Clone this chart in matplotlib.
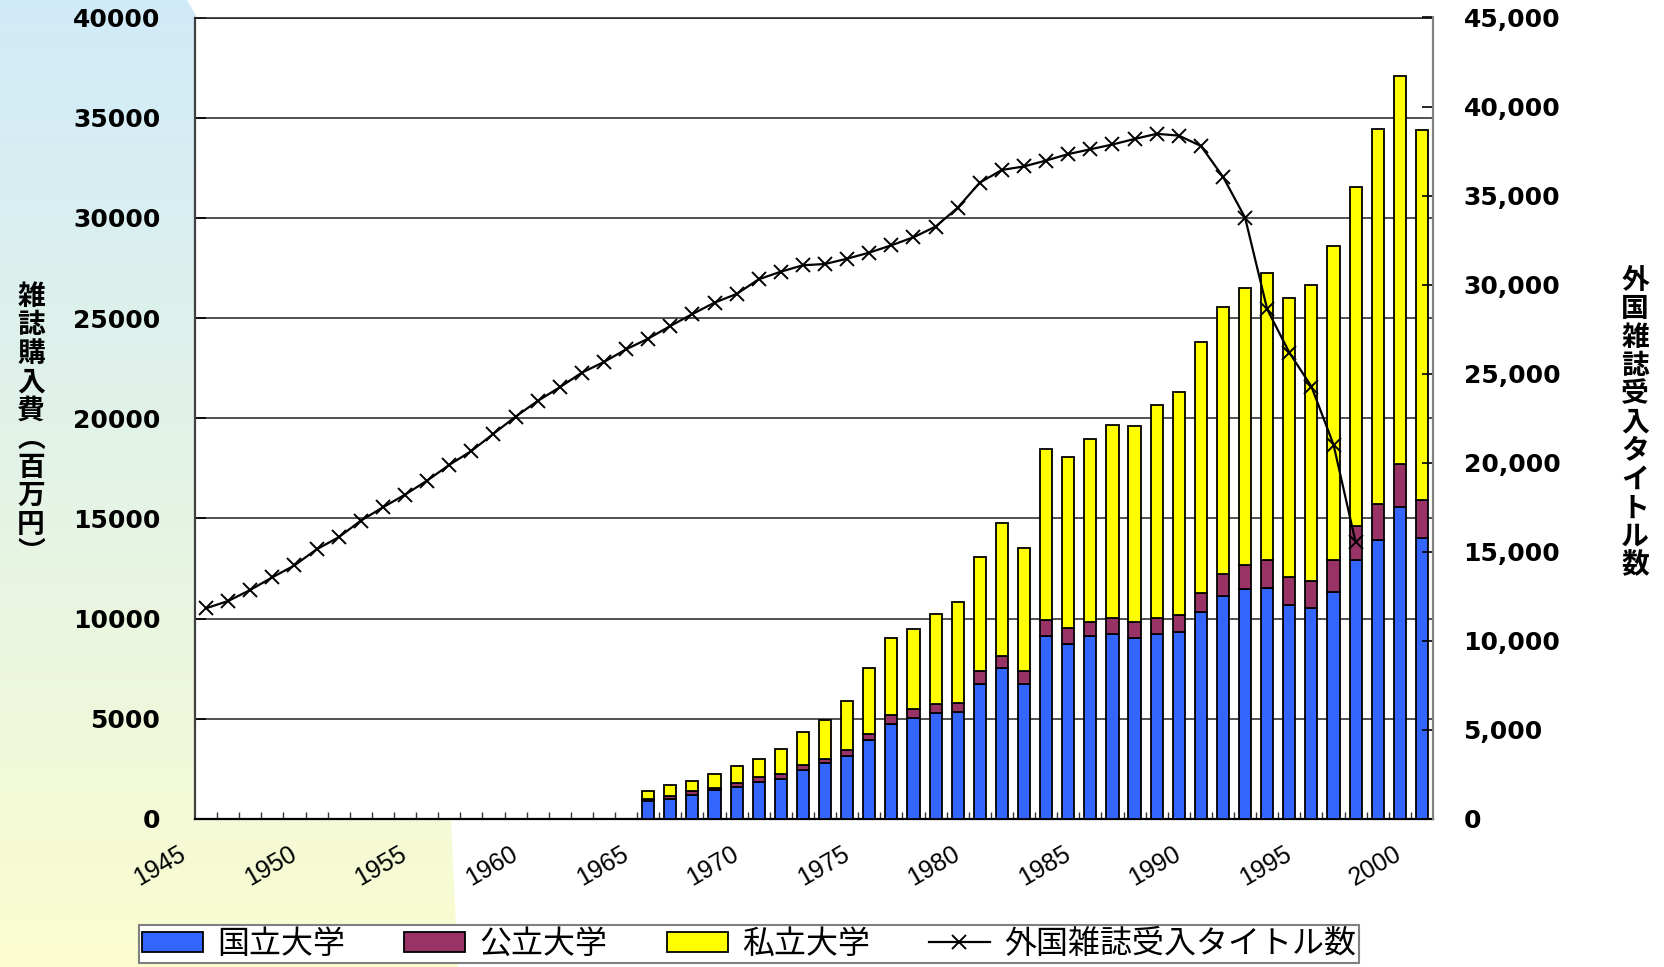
import numpy as np
import matplotlib
matplotlib.use('Agg')
import matplotlib.pyplot as plt
import matplotlib.transforms as mtransforms
from matplotlib.patches import Polygon, Patch
from matplotlib.lines import Line2D
from matplotlib.colors import LinearSegmentedColormap
from matplotlib.ticker import FuncFormatter

plt.rcParams['font.family'] = ['Noto Sans CJK JP', 'DejaVu Sans']

# カテゴリ（年）
years = list(range(1945, 2001))
bar_years = list(range(1965, 2001))
line_years = list(range(1945, 1998))

# 雑誌購入費（百万円）
kokuritsu = [900, 980, 1210, 1450, 1610, 1850, 2000, 2460, 2780, 3140,
             3940, 4720, 5020, 5270, 5340, 6740, 7520, 6750, 9110, 8710,
             9110, 9250, 9040, 9250, 9340, 10350, 11130, 11460, 11530, 10680,
             10520, 11340, 12910, 13920, 15550, 14040]
koritsu = [100, 170, 190, 110, 170, 250, 230, 230, 230, 320,
           320, 470, 450, 470, 460, 630, 610, 620, 840, 800,
           700, 800, 770, 800, 850, 940, 1080, 1240, 1380, 1390,
           1380, 1570, 1720, 1790, 2180, 1900]
shiritsu = [380, 550, 510, 690, 850, 910, 1250, 1650, 1950, 2430,
            3270, 3830, 4010, 4510, 5010, 5690, 6640, 6150, 8530, 8570,
            9140, 9610, 9780, 10620, 11110, 12500, 13340, 13790, 14340, 13950,
            14760, 15680, 16920, 18730, 19370, 18430]

# 外国雑誌受入タイトル数
titles = [11830, 12240, 12860, 13570, 14240, 15140, 15820, 16750, 17500, 18210,
          19000, 19880, 20660, 21630, 22590, 23470, 24240, 25060, 25660, 26370,
          26970, 27680, 28350, 28990, 29480, 30300, 30730, 31090, 31160, 31460,
          31800, 32210, 32660, 33260, 34320, 35730, 36440, 36640, 36970, 37330,
          37600, 37870, 38180, 38470, 38370, 37790, 36060, 33760, 28620, 26190,
          24280, 21020, 15540]

label_years = list(range(1945, 2001, 5))
legend_labels = ['国立大学', '公立大学', '私立大学', '外国雑誌受入タイトル数']
left_label = '雑誌購入費︵百万円︶'
right_label = '外国雑誌受入タイトル数'

c_koku = '#3366FF'
c_ko = '#993366'
c_shi = '#FFFF00'

W, H = 1664, 967
fig = plt.figure(figsize=(W / 100, H / 100), dpi=100)

# 背景のグラデーション
bg = fig.add_axes([0, 0, 1, 1], zorder=-10)
bg.set_xlim(0, W)
bg.set_ylim(H, 0)
bg.axis('off')
cmap = LinearSegmentedColormap.from_list('bg', ['#d0ebf8', '#e4f3e6', '#fbfdd0'])
im = bg.imshow(np.linspace(0, 1, 256)[:, None], cmap=cmap, aspect='auto',
               extent=[0, W, H, 0])
shape = Polygon([(0, 0), (187, 0), (197, 17), (451, 820), (458, H), (0, H)],
                closed=True, facecolor='none', edgecolor='none', transform=bg.transData)
bg.add_patch(shape)
im.set_clip_path(shape)

ax = fig.add_axes([195 / W, 1 - 819 / H, (1433 - 195) / W, (819 - 17.5) / H])
ax.set_facecolor('white')

xb = np.array([y - years[0] for y in bar_years])
bw = 0.55
ax.bar(xb, kokuritsu, bw, color=c_koku, edgecolor='black', linewidth=1.3, zorder=3)
ax.bar(xb, koritsu, bw, bottom=kokuritsu, color=c_ko, edgecolor='black', linewidth=1.3, zorder=3)
bottom2 = np.array(kokuritsu) + np.array(koritsu)
ax.bar(xb, shiritsu, bw, bottom=bottom2, color=c_shi, edgecolor='black', linewidth=1.3, zorder=3)

ax.set_xlim(-0.5, len(years) - 0.5)
ax.set_ylim(0, 40000)
ax.set_yticks(range(0, 40001, 5000))
ax.yaxis.grid(True, color='#222222', linewidth=1.1, zorder=0)
ax.set_axisbelow(True)

ax.set_xticks([y - years[0] for y in label_years])
ax.set_xticklabels([str(y) for y in label_years], rotation=30, ha='right', va='center',
                   rotation_mode='anchor', family='Liberation Sans', fontsize=18)
ax.set_xticks(np.arange(0.5, len(years) - 1, 1), minor=True)
ax.tick_params(axis='x', which='major', length=0, pad=24)
ax.tick_params(axis='x', which='minor', direction='in', length=5, width=1, color='#333333')
offset = mtransforms.ScaledTranslation(-0.22, 0, fig.dpi_scale_trans)
for lbl in ax.get_xticklabels():
    lbl.set_transform(lbl.get_transform() + offset)

ax.tick_params(axis='y', direction='in', length=8, width=1.2, pad=25)
for lbl in ax.get_yticklabels():
    lbl.set_family('DejaVu Sans')
    lbl.set_fontweight('bold')
    lbl.set_fontsize(18)

ax.spines['left'].set_color('#404040')
ax.spines['left'].set_linewidth(1.6)
ax.spines['bottom'].set_color('black')
ax.spines['bottom'].set_linewidth(1.6)
ax.spines['top'].set_color('#222222')
ax.spines['top'].set_linewidth(1.1)
ax.spines['right'].set_color('#808080')
ax.spines['right'].set_linewidth(1.5)

ax2 = ax.twinx()
xl = [y - years[0] for y in line_years]
ax2.plot(xl, titles, color='black', linewidth=1.6, marker='x', markersize=10,
         markeredgewidth=1.4, zorder=5)
ax2.set_ylim(0, 45000)
ax2.set_yticks(range(0, 45001, 5000))
ax2.yaxis.set_major_formatter(FuncFormatter(lambda v, p: f'{int(v):,}'))
ax2.tick_params(axis='y', direction='in', length=8, width=1.2, pad=22)
for lbl in ax2.get_yticklabels():
    lbl.set_family('DejaVu Sans')
    lbl.set_fontweight('bold')
    lbl.set_fontsize(18)
for s in ['left', 'top', 'bottom']:
    ax2.spines[s].set_visible(False)
ax2.spines['right'].set_color('#808080')
ax2.spines['right'].set_linewidth(1.5)

# 縦書きの軸ラベル
fig.text(31 / W, 1 - 425 / H, '\n'.join(left_label), ha='center', va='center',
         fontsize=20, fontweight='bold', linespacing=1.02)
fig.text(1635 / W, 1 - 423 / H, '\n'.join(right_label), ha='center', va='center',
         fontsize=20, fontweight='bold', linespacing=1.02)

handles = [Patch(facecolor=c_koku, edgecolor='black', linewidth=1.3, label=legend_labels[0]),
           Patch(facecolor=c_ko, edgecolor='black', linewidth=1.3, label=legend_labels[1]),
           Patch(facecolor=c_shi, edgecolor='black', linewidth=1.3, label=legend_labels[2]),
           Line2D([], [], color='black', linewidth=1.6, marker='x', markersize=10,
                  markeredgewidth=1.4, label=legend_labels[3])]
leg = fig.legend(handles=handles, loc='upper left', bbox_to_anchor=(139 / W, 1 - 925 / H),
                 ncol=4, frameon=True, fancybox=False, edgecolor='#808080',
                 prop={'family': ['Noto Sans CJK JP', 'DejaVu Sans'], 'size': 23},
                 handlelength=1.91, handleheight=0.6, handletextpad=0.44,
                 columnspacing=1.85, borderpad=0.1, borderaxespad=0)
leg.get_frame().set_linewidth(1.5)
leg.get_frame().set_alpha(1)

fig.savefig('out.png', dpi=100)
